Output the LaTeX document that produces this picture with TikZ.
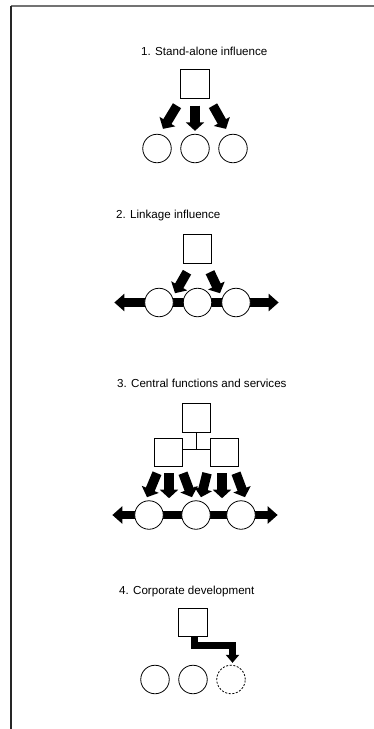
\documentclass[tikz,border=0pt]{standalone}
\usepackage{fontspec}
\setmainfont{Liberation Sans}
\usetikzlibrary{arrows.meta,backgrounds}
\begin{document}
\begin{tikzpicture}[x=1pt,y=-1pt,
  box/.style={draw,line width=0.9pt,fill=white,minimum width=28.5pt,minimum height=28.5pt,inner sep=0pt},
  unit/.style={circle,draw,line width=0.8pt,fill=white,minimum size=28.5pt,inner sep=0pt},
  newunit/.style={unit,dashed,dash pattern=on 2pt off 1.6pt},
  push/.style={line width=9.5pt,-{Triangle[length=8.5pt,width=18pt]}},
  link/.style={line width=9pt,{Triangle[length=10pt,width=17pt]}-{Triangle[length=10pt,width=17pt]}},
  develop/.style={line width=7pt,line join=miter,-{Triangle[length=8pt,width=13pt]}},
  title/.style={anchor=base west,inner sep=0pt,font=\fontsize{11.6}{13}\selectfont},
  frame/.style={line width=1.1pt}]
\useasboundingbox (0,0) rectangle (374,729);

% frame
\draw[frame,black!55] (11,6) -- (374,6);
\draw[frame,black!85] (11,6) -- (11,729);

% 1. Stand-alone influence
\node[title] (h1) at (141,55) {1. Stand-alone influence};
\node[box] (s1) at (195,84) {};
\node[unit] (c11) at (157,148.5) {};
\node[unit] (c12) at (195,148.5) {};
\node[unit] (c13) at (233,148.5) {};
\draw[push] ([shift={(-18,7)}]s1.south) -- ([shift={(6,-5)}]c11.north);
\draw[push] ([shift={(0,7)}]s1.south) -- ([shift={(0,-3)}]c12.north);
\draw[push] ([shift={(18,7)}]s1.south) -- ([shift={(-7,-5)}]c13.north);

% 2. Linkage influence
\node[title] (h2) at (116,218) {2. Linkage influence};
\node[box] (s2) at (197.5,249) {};
\node[unit] (c21) at (159,302.5) {};
\node[unit] (c22) at (197.5,302.5) {};
\node[unit] (c23) at (236,302.5) {};
\begin{scope}[on background layer]
  \draw[link] ([shift={(-30,0)}]c21.west) -- ([shift={(28,0)}]c23.east);
\end{scope}
\draw[push] ([shift={(-10.5,8.5)}]s2.south) -- ([shift={(-22.5,29.5)}]s2.south);
\draw[push] ([shift={(12.5,8.5)}]s2.south) -- ([shift={(22.5,29.5)}]s2.south);

% 3. Central functions and services
\node[title] (h3) at (117,387) {3. Central functions and services};
\node[box] (t3) at (196.5,418) {};
\node[box] (l3) at (168.5,452.5) {};
\node[box] (r3) at (224.5,452.5) {};
\draw[line width=0.8pt] (t3.south) -- ([shift={(0,-3)}]t3.south |- l3.east);
\draw[line width=0.8pt] ([shift={(0,-3)}]l3.east) -- ([shift={(0,-3)}]r3.west);
\node[unit] (c31) at (149,515) {};
\node[unit] (c32) at (196,515) {};
\node[unit] (c33) at (241,515) {};
\begin{scope}[on background layer]
  \draw[link,line width=8.5pt] ([shift={(-22,0)}]c31.west) -- ([shift={(22,0)}]c33.east);
\end{scope}
\draw[push] ([shift={(-11.5,6)}]l3.south) -- ([shift={(-21.5,30)}]l3.south);
\draw[push] ([shift={(0.5,6)}]l3.south) -- ([shift={(0.5,31)}]l3.south);
\draw[push] ([shift={(14.5,6)}]l3.south) -- ([shift={(23.5,30)}]l3.south);
\draw[push] ([shift={(-17.5,6)}]r3.south) -- ([shift={(-23.5,30)}]r3.south);
\draw[push] ([shift={(-2.5,6)}]r3.south) -- ([shift={(-2.5,31)}]r3.south);
\draw[push] ([shift={(11.5,6)}]r3.south) -- ([shift={(20.5,30)}]r3.south);

% 4. Corporate development
\node[title] (h4) at (119,594) {4. Corporate development};
\node[box] (q4) at (193,622.5) {};
\node[unit] (c41) at (155,679.5) {};
\node[unit] (c42) at (193,679.5) {};
\node[newunit] (c43) at (231,679.5) {};
\draw[develop] ([shift={(1,0)}]q4.south) -- ++(0,8.5) -| ([shift={(1.5,-2)}]c43.north);
\end{tikzpicture}
\end{document}
